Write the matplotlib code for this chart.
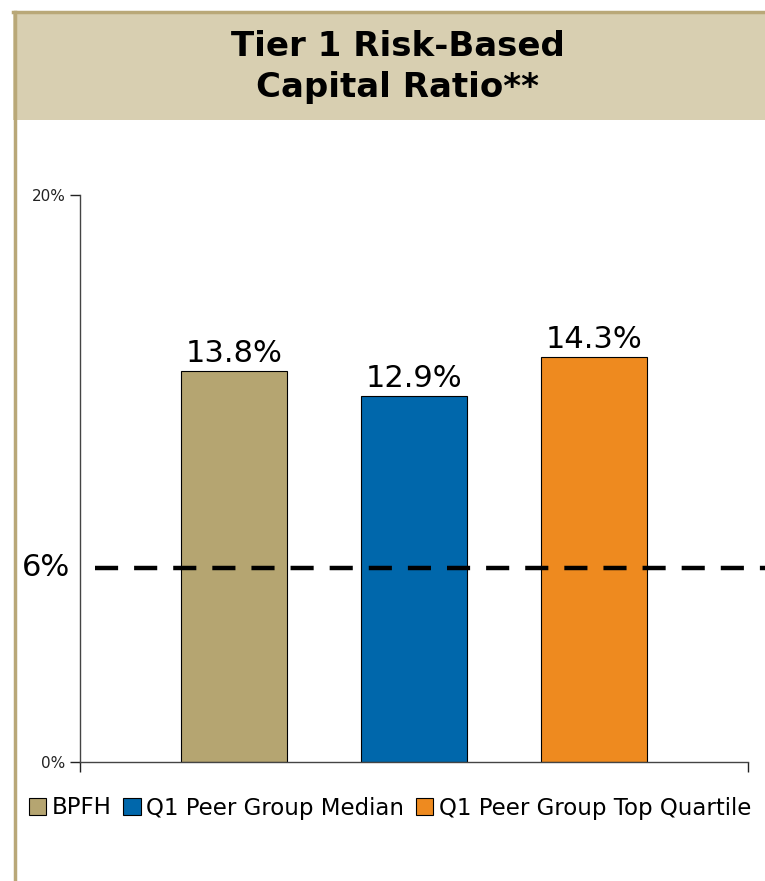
import matplotlib.pyplot as plt
from matplotlib.patches import Rectangle
from matplotlib.lines import Line2D
import matplotlib.transforms as mtransforms

categories = ["BPFH", "Q1 Peer Group Median", "Q1 Peer Group Top Quartile"]
values = [13.8, 12.9, 14.3]
bar_colors = ["#b5a571", "#0067ab", "#ee8a1f"]
value_labels = ["13.8%", "12.9%", "14.3%"]
y_ticks = [0, 20]
y_tick_labels = ["0%", "20%"]
threshold_label = "6%"
threshold_level = 6.85  # where the dashed line sits on the value axis
title = "Tier 1 Risk-Based\nCapital Ratio**"

GOLD = "#b9a878"
BAND = "#d8cfb1"


def main():
    fig = plt.figure(figsize=(7.65, 8.81), dpi=100)

    # title band and its gold border (top and left)
    fig.patches.append(Rectangle((13 / 765, 1 - 120 / 881), 1, 108 / 881,
                                 transform=fig.transFigure, facecolor=BAND,
                                 edgecolor="none"))
    fig.lines.append(Line2D([13 / 765, 1], [1 - 12 / 881, 1 - 12 / 881],
                            transform=fig.transFigure, color=GOLD, linewidth=2.5))
    fig.lines.append(Line2D([15 / 765, 15 / 765], [0, 1 - 12 / 881],
                            transform=fig.transFigure, color=GOLD, linewidth=2.5))
    fig.text(0.52, 1 - 67 / 881, title, ha="center", va="center",
             fontsize=24.5, fontweight="bold", linespacing=1.3)

    ax = fig.add_axes([80 / 765, 1 - 762 / 881, 668 / 765, 567 / 881])
    x = range(len(categories))
    bars = ax.bar(x, values, width=0.59, color=bar_colors, edgecolor="black",
                  linewidth=0.8, label=categories, zorder=2)
    for rect, lab in zip(bars, value_labels):
        ax.text(rect.get_x() + rect.get_width() / 2, rect.get_height() + 0.1, lab,
                ha="center", va="bottom", fontsize=22)

    ax.set_xlim(-0.856, 2.856)
    ax.set_ylim(0, 20)
    ax.set_yticks(y_ticks)
    ax.set_yticklabels(y_tick_labels, fontsize=11)
    ax.set_xticks([-0.856, 2.856])
    ax.set_xticklabels([])
    ax.tick_params(direction="out", length=7, width=1, colors="#222222")
    for side in ["top", "right"]:
        ax.spines[side].set_visible(False)
    for side in ["left", "bottom"]:
        ax.spines[side].set_color("#444444")
        ax.spines[side].set_linewidth(1)

    # dashed 6% line, running past the plot area to the right edge
    trans = mtransforms.blended_transform_factory(ax.transAxes, ax.transData)
    ax.plot([0.022, 1.03], [threshold_level, threshold_level], transform=trans,
            color="black", linewidth=3.2, dashes=(5.2, 3.6), clip_on=False, zorder=3)
    ax.text(-0.015, threshold_level, threshold_label, transform=trans,
            ha="right", va="center", fontsize=22)

    fig.legend(handles=list(bars), labels=categories, loc="center",
               bbox_to_anchor=(0.51, 1 - 808 / 881), ncol=3, frameon=False,
               fontsize=16.5, handlelength=0.75, handleheight=0.75,
               handletextpad=0.25, columnspacing=0.5)

    fig.savefig("out.png", dpi=100)
    plt.close(fig)


if __name__ == "__main__":
    main()
